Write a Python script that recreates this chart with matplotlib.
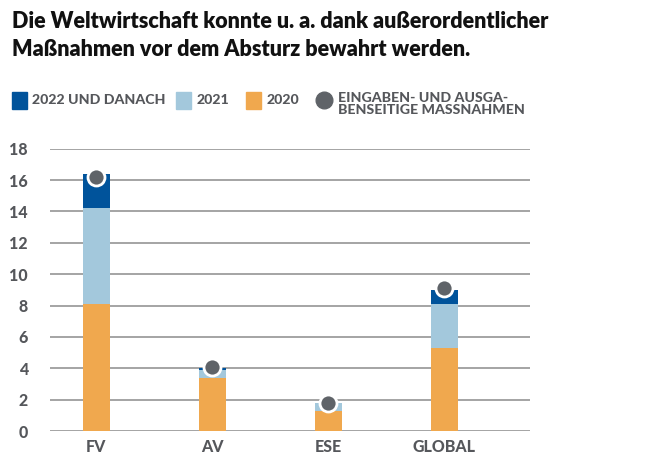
import matplotlib
matplotlib.use("Agg")
import matplotlib.pyplot as plt
from matplotlib.patches import Rectangle
from matplotlib.lines import Line2D

categories = ["FV", "AV", "ESE", "GLOBAL"]
v2020 = [8.1, 3.4, 1.3, 5.3]
v2021 = [6.1, 0.5, 0.5, 2.8]
v2022 = [2.2, 0.1, 0.0, 0.9]
measures = [16.2, 4.1, 1.8, 9.1]
yticks = [0, 2, 4, 6, 8, 10, 12, 14, 16, 18]

c_dark = "#00539b"
c_light = "#a3c8dc"
c_orange = "#f0a84e"
c_dot = "#5f6368"
c_text = "#55575b"

plt.rcParams['font.family'] = ['Lato', 'DejaVu Sans']

fig = plt.figure(figsize=(6.46, 4.54), dpi=100)
ax = fig.add_axes([50/646, 1-431/454, 480/646, (431-148.7)/454])

x = list(range(len(categories)))
w = 0.235
b1 = v2020
b2 = [a + b for a, b in zip(v2020, v2021)]
ax.bar(x, v2020, w, color=c_orange, zorder=3)
ax.bar(x, v2021, w, bottom=b1, color=c_light, zorder=3)
ax.bar(x, v2022, w, bottom=b2, color=c_dark, zorder=3)
ax.scatter(x, measures, s=150, color=c_dot, edgecolor="white", linewidth=2, zorder=5, clip_on=False)

ax.set_xlim(-0.4, 3.74)
ax.set_ylim(0, 18)
ax.set_yticks(yticks)
ax.set_yticklabels([str(t) for t in yticks])
ax.set_xticks(x)
ax.set_xticklabels(categories)
ax.grid(axis="y", color="#8c8c8c", linewidth=1.1, zorder=0)
ax.set_axisbelow(True)
for s in ax.spines.values():
    s.set_visible(False)
ax.tick_params(axis="both", length=0, labelsize=11.5, labelcolor=c_text)
ax.tick_params(axis="y", pad=16)
ax.tick_params(axis="x", pad=6)
for lbl in ax.get_xticklabels() + ax.get_yticklabels():
    lbl.set_fontweight(900)

fig.text(12/646, 1-21/454, "Die Weltwirtschaft konnte u. a. dank außerordentlicher",
         fontsize=15.5, fontweight=800, color="#111111", va="center", ha="left")
fig.text(12/646, 1-49/454, "Maßnahmen vor dem Absturz bewahrt werden.",
         fontsize=15.5, fontweight=800, color="#111111", va="center", ha="left")

# legend
ly = 1-100/454
lfs = 10.2
def sq(xp, col):
    fig.patches.append(Rectangle((xp/646, 1-109/454), 15/646, 17/454, color=col,
                                 transform=fig.transFigure, figure=fig))
sq(12, c_dark)
fig.text(32/646, ly, "2022 UND DANACH", fontsize=lfs, fontweight=900, color=c_text, va="center")
sq(176, c_light)
fig.text(197/646, ly, "2021", fontsize=lfs, fontweight=900, color=c_text, va="center")
sq(246, c_orange)
fig.text(267/646, ly, "2020", fontsize=lfs, fontweight=900, color=c_text, va="center")
fig.lines.append(Line2D([324/646], [ly], marker="o", markersize=12, color=c_dot,
                        transform=fig.transFigure, figure=fig))
fig.text(338/646, 1-104/454, "EINGABEN- UND AUSGA-\nBENSEITIGE MASSNAHMEN", fontsize=lfs,
         fontweight=900, color=c_text, va="center", linespacing=0.95)

fig.savefig("out.png", dpi=100)
